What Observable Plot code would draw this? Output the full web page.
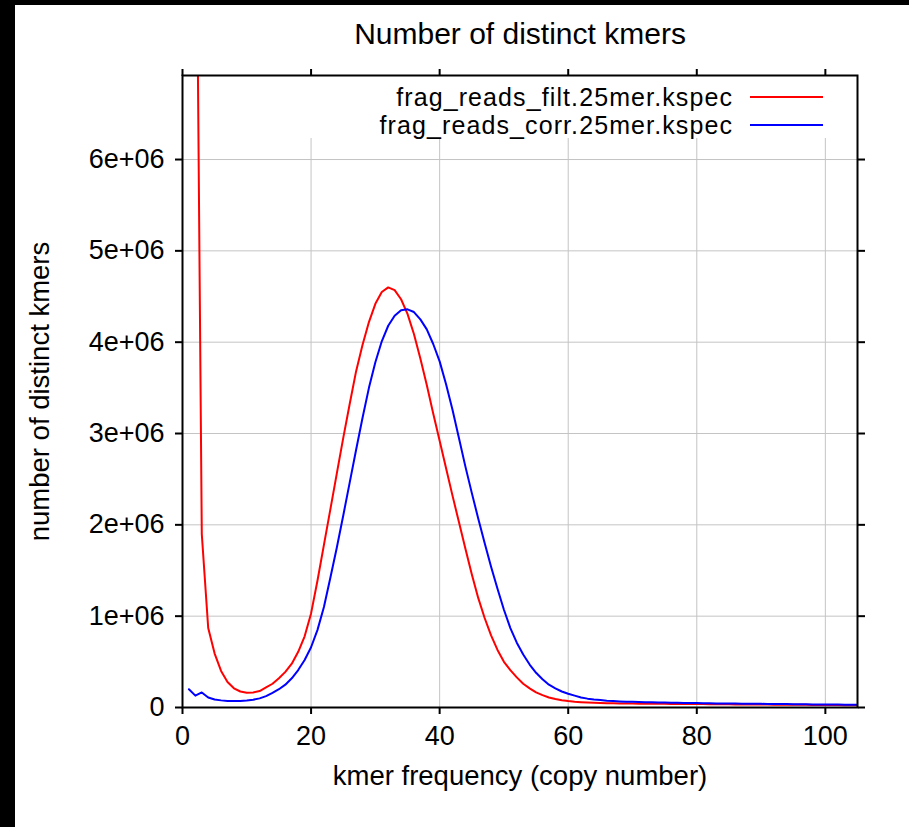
<!DOCTYPE html>
<html><head><meta charset="utf-8">
<script src="https://cdn.jsdelivr.net/npm/d3@7"></script>
<script src="https://cdn.jsdelivr.net/npm/@observablehq/plot@0.6"></script>
<style>
html,body{margin:0;padding:0;background:#000;}
#page{position:absolute;left:15px;top:5px;width:894px;height:822px;background:#fff;overflow:hidden;}
#chart svg{display:block;}
.leg{position:absolute;font-family:"Liberation Sans",Arial,sans-serif;font-size:25px;letter-spacing:1.1px;color:#000;white-space:nowrap;line-height:28px;text-align:right;}
.sw{position:absolute;height:2px;}
</style></head><body>
<div id="page"><div id="chart"></div><div id="legend"></div></div>
<script>
const title = "Number of distinct kmers";
const xLabel = "kmer frequency (copy number)";
const yLabel = "number of distinct kmers";
const seriesNames = ["frag_reads_filt.25mer.kspec", "frag_reads_corr.25mer.kspec"];
const seriesColors = ["#ff0000", "#0000ff"];
const xTicks = [0, 20, 40, 60, 80, 100];
const yTicks = [0, 1e6, 2e6, 3e6, 4e6, 5e6, 6e6];
const yTickLabels = ["0", "1e+06", "2e+06", "3e+06", "4e+06", "5e+06", "6e+06"];
const xDomain = [0, 105];
const yDomain = [0, 6.92e6];
const gridTop = 6.23e6;

const frequency = [1,2,3,4,5,6,7,8,9,10,11,12,13,14,15,16,17,18,19,20,
21,22,23,24,25,26,27,28,29,30,31,32,33,34,35,36,37,38,39,40,
41,42,43,44,45,46,47,48,49,50,51,52,53,54,55,56,57,58,59,60,
61,62,63,64,65,66,67,68,69,70,71,72,73,74,75,76,77,78,79,80,
81,82,83,84,85,86,87,88,89,90,91,92,93,94,95,96,97,98,99,100,
101,102,103,104,105];

// frag_reads_filt (red); value at frequency 1 is off the chart and not readable
const filtCount = [null,10.3e6,1.90e6,0.87e6,0.59e6,0.40e6,0.28e6,0.21e6,0.175e6,0.162e6,
0.165e6,0.18e6,0.22e6,0.26e6,0.32e6,0.39e6,0.48e6,0.61e6,0.78e6,1.03e6,
1.39e6,1.78e6,2.17e6,2.56e6,2.95e6,3.32e6,3.68e6,3.97e6,4.22e6,4.42e6,
4.55e6,4.60e6,4.57e6,4.47e6,4.31e6,4.09e6,3.82e6,3.53e6,3.22e6,2.92e6,
2.62e6,2.32e6,2.03e6,1.74e6,1.46e6,1.20e6,0.98e6,0.79e6,0.63e6,0.50e6,
0.41e6,0.33e6,0.26e6,0.21e6,0.165e6,0.135e6,0.11e6,0.093e6,0.08e6,0.07e6,
0.063e6,0.058e6,0.054e6,0.051e6,0.049e6,0.047e6,0.046e6,0.045e6,0.044e6,0.043e6,
0.042e6,0.041e6,0.041e6,0.040e6,0.040e6,0.039e6,0.039e6,0.038e6,0.038e6,0.037e6,
0.037e6,0.036e6,0.036e6,0.035e6,0.035e6,0.034e6,0.034e6,0.033e6,0.033e6,0.032e6,
0.032e6,0.031e6,0.031e6,0.030e6,0.030e6,0.029e6,0.029e6,0.028e6,0.028e6,0.027e6,
0.027e6,0.026e6,0.026e6,0.025e6,0.025e6];

// frag_reads_corr (blue)
const corrCount = [0.20e6,0.13e6,0.165e6,0.11e6,0.088e6,0.078e6,0.072e6,0.070e6,0.071e6,0.076e6,
0.085e6,0.10e6,0.125e6,0.16e6,0.20e6,0.25e6,0.32e6,0.41e6,0.52e6,0.66e6,
0.85e6,1.10e6,1.42e6,1.75e6,2.10e6,2.46e6,2.82e6,3.17e6,3.50e6,3.78e6,
4.01e6,4.18e6,4.29e6,4.35e6,4.36e6,4.33e6,4.25e6,4.14e6,3.98e6,3.79e6,
3.54e6,3.26e6,2.95e6,2.64e6,2.35e6,2.07e6,1.80e6,1.54e6,1.30e6,1.07e6,
0.87e6,0.71e6,0.58e6,0.47e6,0.38e6,0.31e6,0.25e6,0.21e6,0.175e6,0.15e6,
0.13e6,0.11e6,0.097e6,0.088e6,0.081e6,0.075e6,0.071e6,0.067e6,0.064e6,0.062e6,
0.060e6,0.058e6,0.057e6,0.055e6,0.054e6,0.053e6,0.052e6,0.050e6,0.049e6,0.048e6,
0.047e6,0.046e6,0.045e6,0.045e6,0.044e6,0.043e6,0.042e6,0.041e6,0.040e6,0.040e6,
0.039e6,0.038e6,0.037e6,0.037e6,0.036e6,0.035e6,0.035e6,0.034e6,0.033e6,0.033e6,
0.032e6,0.032e6,0.031e6,0.031e6,0.030e6];

const seriesCounts = [filtCount, corrCount];
const data = [];
seriesNames.forEach((name, i) => {
  frequency.forEach((f, j) => {
    const n = seriesCounts[i][j];
    if (n != null) data.push({series: name, f, n});
  });
});

const yLabelMap = new Map(yTicks.map((t, i) => [t, yTickLabels[i]]));
const font = "'Liberation Sans', Arial, Helvetica, sans-serif";
const gridColor = "#c4c4c4";

const chart = Plot.plot({
  width: 894,
  height: 822,
  marginLeft: 167,
  marginRight: 52,
  marginTop: 70,
  marginBottom: 120,
  style: {fontFamily: font, fontSize: "27px", color: "#000", background: "#fff", overflow: "visible"},
  x: {domain: xDomain},
  y: {domain: yDomain},
  color: {domain: seriesNames, range: seriesColors},
  marks: [
    Plot.ruleY(yTicks.filter(d => d > 0), {y: d => d, stroke: gridColor, strokeWidth: 1}),
    Plot.ruleX(xTicks.filter(d => d > 0), {x: d => d, y1: 0, y2: gridTop, stroke: gridColor, strokeWidth: 1}),
    Plot.line(data, {x: "f", y: "n", z: "series", stroke: "series", strokeWidth: 2, clip: true}),
    Plot.frame({stroke: "#000", strokeWidth: 2}),
    Plot.axisX(xTicks, {anchor: "bottom", tickSize: 7, tickPadding: 11, strokeWidth: 2, label: null, fontSize: 27}),
    Plot.axisX(xTicks, {anchor: "top", tickSize: 7, tickFormat: () => "", strokeWidth: 2, label: null}),
    Plot.axisY(yTicks, {anchor: "left", tickSize: 7, tickPadding: 11, strokeWidth: 2, label: null, fontSize: 27, tickFormat: d => yLabelMap.get(d)}),
    Plot.axisY(yTicks, {anchor: "right", tickSize: 7, tickFormat: () => "", strokeWidth: 2, label: null}),
    Plot.text([title], {text: d => d, frameAnchor: "top", textAnchor: "middle", dy: -32, lineAnchor: "bottom", fontSize: 30}),
    Plot.text([xLabel], {text: d => d, frameAnchor: "bottom", textAnchor: "middle", dy: 77, lineAnchor: "bottom", fontSize: 27.5}),
    Plot.text([yLabel], {text: d => d, frameAnchor: "left", textAnchor: "middle", dx: -142, rotate: -90, lineAnchor: "middle", fontSize: 27.5})
  ]
});
document.getElementById("chart").appendChild(chart);

// legend (top-right, as in the reference): one right-aligned text block, one swatch per row
const legend = document.getElementById("legend");
const legendText = document.createElement("div");
legendText.className = "leg";
legendText.style.right = "176px";
legendText.style.top = "78.3px";
seriesNames.forEach((name, i) => {
  if (i > 0) legendText.appendChild(document.createElement("br"));
  legendText.appendChild(document.createTextNode(name));
});
legend.appendChild(legendText);
const swatchTops = [91, 119];
seriesColors.forEach((c, i) => {
  const s = document.createElement("div");
  s.className = "sw";
  s.style.left = "735px";
  s.style.width = "73px";
  s.style.top = swatchTops[i] + "px";
  s.style.background = c;
  legend.appendChild(s);
});
</script>
</body></html>
